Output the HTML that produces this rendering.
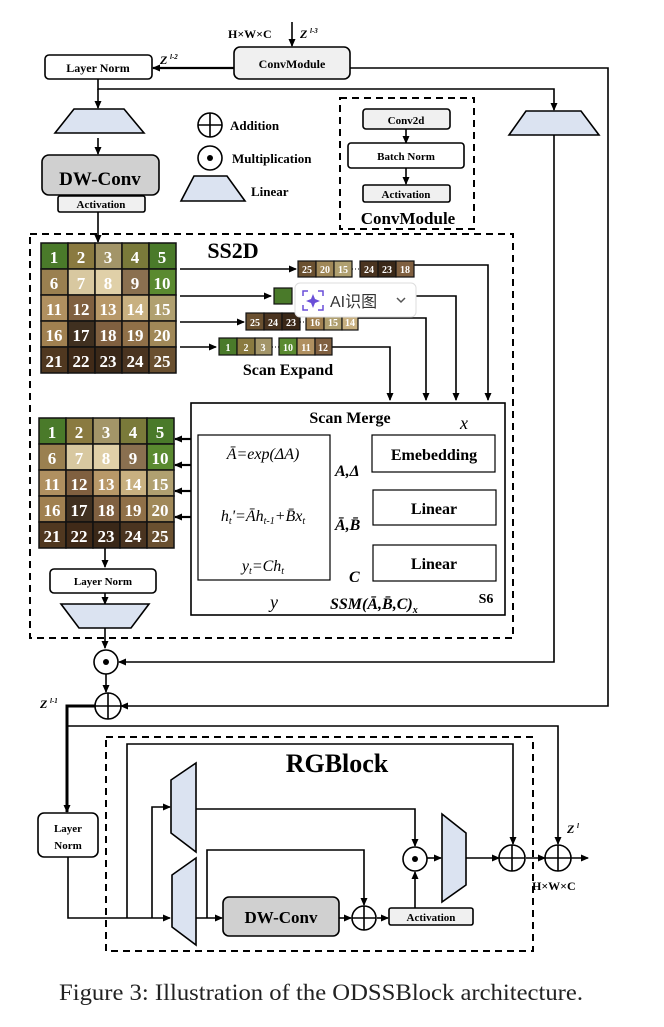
<!DOCTYPE html>
<html><head><meta charset="utf-8"><style>
html,body{margin:0;padding:0;background:#fff;}
svg{display:block;font-family:"Liberation Serif",serif;}
.b{font-weight:bold;}
.n{font-weight:bold;fill:#fff;font-size:17px;text-anchor:middle;}
.s{font-weight:bold;fill:#fff;font-size:10px;text-anchor:middle;}
</style></head><body>
<svg width="664" height="1027" viewBox="0 0 664 1027" xmlns="http://www.w3.org/2000/svg">
<defs>
<marker id="a" markerWidth="8" markerHeight="8" refX="7" refY="4" orient="auto" markerUnits="userSpaceOnUse"><path d="M0,0.5 L8,4 L0,7.5 z" fill="#000"/></marker>
</defs>
<g stroke="#000" fill="none" stroke-width="1.6">
<line x1="292" y1="22" x2="292" y2="46" marker-end="url(#a)"/>
<line x1="234" y1="68" x2="153" y2="68" stroke-width="2.2" marker-end="url(#a)"/>
<polyline points="350,68 608,68 608,706 121,706" marker-end="url(#a)"/>
<polyline points="98,79 98,89 554,89 554,110" marker-end="url(#a)"/>
<line x1="98" y1="89" x2="98" y2="108" marker-end="url(#a)"/>
<line x1="98" y1="138" x2="98" y2="154" marker-end="url(#a)"/>
<line x1="98" y1="212" x2="98" y2="242" marker-end="url(#a)"/>
<polyline points="554,135 554,662 119,662" marker-end="url(#a)"/>
<line x1="406" y1="129" x2="406" y2="143" marker-end="url(#a)"/>
<line x1="406" y1="168" x2="406" y2="184" marker-end="url(#a)"/>
<line x1="180" y1="269" x2="296" y2="269" marker-end="url(#a)"/>
<line x1="180" y1="296" x2="271" y2="296" marker-end="url(#a)"/>
<line x1="180" y1="322" x2="244" y2="322" marker-end="url(#a)"/>
<line x1="180" y1="347" x2="216" y2="347" marker-end="url(#a)"/>
<polyline points="414,265 488,265 488,400" marker-end="url(#a)"/>
<polyline points="416,296 456,296 456,400" marker-end="url(#a)"/>
<polyline points="358,318 426,318 426,400" marker-end="url(#a)"/>
<polyline points="332,347 390,347 390,400" marker-end="url(#a)"/>
<line x1="191" y1="439" x2="175" y2="439" stroke-width="2.2" marker-end="url(#a)"/>
<line x1="191" y1="465" x2="175" y2="465" stroke-width="2.2" marker-end="url(#a)"/>
<line x1="191" y1="491" x2="175" y2="491" stroke-width="2.2" marker-end="url(#a)"/>
<line x1="191" y1="517" x2="175" y2="517" stroke-width="2.2" marker-end="url(#a)"/>
<line x1="105" y1="548" x2="105" y2="567" marker-end="url(#a)"/>
<line x1="105" y1="593" x2="105" y2="604" marker-end="url(#a)"/>
<line x1="105" y1="628" x2="105" y2="648" marker-end="url(#a)"/>
<line x1="106" y1="674" x2="106" y2="692" marker-end="url(#a)"/>
<line x1="478" y1="418" x2="478" y2="434" marker-end="url(#a)"/>
<line x1="478" y1="472" x2="478" y2="489" marker-end="url(#a)"/>
<line x1="478" y1="525" x2="478" y2="544" marker-end="url(#a)"/>
<line x1="372" y1="453" x2="331" y2="453" stroke-width="1" marker-end="url(#a)"/>
<line x1="373" y1="508" x2="331" y2="508" stroke-width="1" marker-end="url(#a)"/>
<line x1="373" y1="563" x2="331" y2="563" stroke-width="1" marker-end="url(#a)"/>
<line x1="330" y1="603" x2="290" y2="603" stroke-width="1" marker-end="url(#a)"/>
<polyline points="95,706 67,706 67,812" stroke-width="3" marker-end="url(#a)"/>
<polyline points="67,726 558,726 558,844" marker-end="url(#a)"/>
<polyline points="68,857 68,918 170,918" marker-end="url(#a)"/>
<polyline points="127,918 127,744 513,744 513,844" marker-end="url(#a)"/>
<polyline points="152,918 152,807 170,807" marker-end="url(#a)"/>
<polyline points="196,809 415,809 415,846" marker-end="url(#a)"/>
<line x1="196" y1="918" x2="222" y2="918" marker-end="url(#a)"/>
<polyline points="207,918 207,850 364,850 364,905" marker-end="url(#a)"/>
<line x1="339" y1="918" x2="351" y2="918" marker-end="url(#a)"/>
<line x1="377" y1="918" x2="388" y2="918" marker-end="url(#a)"/>
<line x1="415" y1="908" x2="415" y2="872" marker-end="url(#a)"/>
<line x1="427" y1="858" x2="441" y2="858" marker-end="url(#a)"/>
<line x1="466" y1="858" x2="499" y2="858" marker-end="url(#a)"/>
<line x1="526" y1="858" x2="545" y2="858" marker-end="url(#a)"/>
<line x1="571" y1="858" x2="588" y2="858" marker-end="url(#a)"/>
</g>

<g stroke="#000" stroke-width="1.6">
<rect x="234" y="47" width="116" height="32" rx="6" fill="#f0f0f0"/>
<rect x="45" y="55" width="107" height="24" rx="4" fill="#fff"/>
<polygon points="74,109 124,109 144,133 55,133" fill="#dbe3f1"/>
<polygon points="526,111 581,111 599,135 509,135" fill="#dbe3f1"/>
<rect x="42" y="155" width="117" height="40" rx="7" fill="#d0d0d0"/>
<rect x="58" y="196" width="87" height="16" rx="2" fill="#f0f0f0"/>
<polygon points="194,176 227,176 245,201 181,201" fill="#dbe3f1"/>
<rect x="363" y="109" width="87" height="20" rx="3" fill="#f0f0f0"/>
<rect x="348" y="143" width="116" height="25" rx="3" fill="#fff"/>
<rect x="363" y="185" width="87" height="17" rx="2" fill="#f0f0f0"/>
<rect x="191" y="403" width="314" height="212" fill="#fff"/>
<rect x="198" y="435" width="132" height="145" fill="#fff" stroke-width="1.2"/>
<rect x="372" y="435" width="123" height="37" fill="#fff" stroke-width="1.2"/>
<rect x="373" y="490" width="123" height="35" fill="#fff" stroke-width="1.2"/>
<rect x="373" y="545" width="123" height="36" fill="#fff" stroke-width="1.2"/>
<rect x="50" y="569" width="106" height="24" rx="4" fill="#fff"/>
<polygon points="61,604 149,604 131,628 79,628" fill="#dbe3f1"/>
<rect x="38" y="813" width="60" height="44" rx="6" fill="#fff"/>
<polygon points="196,763 196,852 171,833 171,780" fill="#dbe3f1"/>
<polygon points="196,858 196,945 172,927 172,875" fill="#dbe3f1"/>
<rect x="223" y="897" width="116" height="39" rx="6" fill="#d0d0d0"/>
<rect x="389" y="908" width="84" height="17" rx="2" fill="#f0f0f0"/>
<polygon points="442,814 466,833 466,885 442,902" fill="#dbe3f1"/>
</g>
<g stroke="#000" stroke-width="2" fill="none" stroke-dasharray="7,5">
<rect x="340" y="98" width="134" height="131"/>
<rect x="30" y="234" width="483" height="404"/>
<rect x="106" y="737" width="427" height="214"/>
</g>
<g stroke="#000" stroke-width="1.6" fill="#fff">
<circle cx="210" cy="125" r="12"/><line x1="198" y1="125" x2="222" y2="125"/><line x1="210" y1="113" x2="210" y2="137"/>
<circle cx="210" cy="158" r="12"/>
<circle cx="106" cy="662" r="12"/>
<circle cx="108" cy="706" r="13"/><line x1="95" y1="706" x2="121" y2="706"/><line x1="108" y1="693" x2="108" y2="719"/>
<circle cx="415" cy="859" r="12"/>
<circle cx="364" cy="918" r="12"/><line x1="352" y1="918" x2="376" y2="918"/><line x1="364" y1="906" x2="364" y2="930"/>
<circle cx="512" cy="858" r="13"/><line x1="499" y1="858" x2="525" y2="858"/><line x1="512" y1="845" x2="512" y2="871"/>
<circle cx="558" cy="858" r="13"/><line x1="545" y1="858" x2="571" y2="858"/><line x1="558" y1="845" x2="558" y2="871"/>
</g>
<g fill="#000"><circle cx="210" cy="158" r="3"/><circle cx="106" cy="662" r="3"/><circle cx="415" cy="859" r="3"/></g>

<g class="b" font-size="12">
<text x="228" y="38">H×W×C</text>
<text x="300" y="38" font-style="italic">Z</text><text x="310" y="33" font-size="7" font-style="italic">l-3</text>
<text x="160" y="64" font-style="italic">Z</text><text x="170" y="59" font-size="7" font-style="italic">l-2</text>
<text x="292" y="68" text-anchor="middle">ConvModule</text>
<text x="98" y="72" text-anchor="middle">Layer Norm</text>
<text x="100" y="185" text-anchor="middle" font-size="19">DW-Conv</text>
<text x="101" y="208" text-anchor="middle" font-size="11">Activation</text>
<text x="230" y="130" font-size="13">Addition</text>
<text x="232" y="163" font-size="13">Multiplication</text>
<text x="251" y="196" font-size="13">Linear</text>
<text x="406" y="124" text-anchor="middle" font-size="11">Conv2d</text>
<text x="406" y="160" text-anchor="middle" font-size="11">Batch Norm</text>
<text x="406" y="198" text-anchor="middle" font-size="11">Activation</text>
<text x="408" y="224" text-anchor="middle" font-size="17">ConvModule</text>
<text x="233" y="258" text-anchor="middle" font-size="22">SS2D</text>
<text x="288" y="375" text-anchor="middle" font-size="16">Scan Expand</text>
<text x="350" y="423" text-anchor="middle" font-size="16">Scan Merge</text>
<text x="434" y="460" text-anchor="middle" font-size="16">Emebedding</text>
<text x="434" y="514" text-anchor="middle" font-size="16">Linear</text>
<text x="434" y="569" text-anchor="middle" font-size="16">Linear</text>
<text x="486" y="603" text-anchor="middle" font-size="14">S6</text>
<text x="103" y="585" text-anchor="middle" font-size="11">Layer Norm</text>
<text x="68" y="832" text-anchor="middle" font-size="11">Layer</text>
<text x="68" y="849" text-anchor="middle" font-size="11">Norm</text>
<text x="337" y="772" text-anchor="middle" font-size="26">RGBlock</text>
<text x="281" y="923" text-anchor="middle" font-size="17">DW-Conv</text>
<text x="431" y="921" text-anchor="middle" font-size="11">Activation</text>
<text x="40" y="708" font-style="italic">Z</text><text x="50" y="703" font-size="7" font-style="italic">l-1</text>
<text x="567" y="833" font-style="italic">Z</text><text x="577" y="828" font-size="7" font-style="italic">l</text>
<text x="532" y="890">H×W×C</text>
</g>
<g font-style="italic" font-size="16">
<text x="460" y="429" font-size="18">x</text>
<text x="263" y="459" text-anchor="middle">Ā=exp(ΔA)</text>
<text x="263" y="521" text-anchor="middle">h<tspan font-size="10" dy="3">t</tspan><tspan dy="-3">'=Āh</tspan><tspan font-size="10" dy="3">t-1</tspan><tspan dy="-3">+B̄x</tspan><tspan font-size="10" dy="3">t</tspan></text>
<text x="263" y="571" text-anchor="middle">y<tspan font-size="10" dy="3">t</tspan><tspan dy="-3">=Ch</tspan><tspan font-size="10" dy="3">t</tspan></text>
<text x="335" y="476" class="b">A,Δ</text>
<text x="335" y="530" class="b">Ā,B̄</text>
<text x="349" y="582" class="b">C</text>
<text x="270" y="608" font-size="18">y</text>
<text x="330" y="609" class="b">SSM(Ā,B̄,C)<tspan font-size="10" dy="4">x</tspan></text>
</g>

<g stroke="#111" stroke-width="1.5">
<rect x="41" y="243" width="27" height="26" fill="#4a7a2a"/><rect x="68" y="243" width="27" height="26" fill="#8a7a40"/><rect x="95" y="243" width="27" height="26" fill="#a39568"/><rect x="122" y="243" width="27" height="26" fill="#7a7a3a"/><rect x="149" y="243" width="27" height="26" fill="#4a7a2a"/>
<rect x="41" y="269" width="27" height="26" fill="#9a8050"/><rect x="68" y="269" width="27" height="26" fill="#d8c8a0"/><rect x="95" y="269" width="27" height="26" fill="#e0d0a8"/><rect x="122" y="269" width="27" height="26" fill="#8a7050"/><rect x="149" y="269" width="27" height="26" fill="#5a8a30"/>
<rect x="41" y="295" width="27" height="26" fill="#b09060"/><rect x="68" y="295" width="27" height="26" fill="#806040"/><rect x="95" y="295" width="27" height="26" fill="#b89868"/><rect x="122" y="295" width="27" height="26" fill="#c8b080"/><rect x="149" y="295" width="27" height="26" fill="#b0a070"/>
<rect x="41" y="321" width="27" height="26" fill="#a08050"/><rect x="68" y="321" width="27" height="26" fill="#403020"/><rect x="95" y="321" width="27" height="26" fill="#806040"/><rect x="122" y="321" width="27" height="26" fill="#907048"/><rect x="149" y="321" width="27" height="26" fill="#a08858"/>
<rect x="41" y="347" width="27" height="26" fill="#503820"/><rect x="68" y="347" width="27" height="26" fill="#402a18"/><rect x="95" y="347" width="27" height="26" fill="#3a2818"/><rect x="122" y="347" width="27" height="26" fill="#4a3420"/><rect x="149" y="347" width="27" height="26" fill="#6a5030"/>
</g>
<g class="n">
<text x="54" y="263">1</text><text x="81" y="263">2</text><text x="108" y="263">3</text><text x="135" y="263">4</text><text x="162" y="263">5</text>
<text x="54" y="289">6</text><text x="81" y="289">7</text><text x="108" y="289">8</text><text x="135" y="289">9</text><text x="162" y="289">10</text>
<text x="54" y="315">11</text><text x="81" y="315">12</text><text x="108" y="315">13</text><text x="135" y="315">14</text><text x="162" y="315">15</text>
<text x="54" y="341">16</text><text x="81" y="341">17</text><text x="108" y="341">18</text><text x="135" y="341">19</text><text x="162" y="341">20</text>
<text x="54" y="367">21</text><text x="81" y="367">22</text><text x="108" y="367">23</text><text x="135" y="367">24</text><text x="162" y="367">25</text>
</g>
<g stroke="#111" stroke-width="1.5">
<rect x="39" y="418" width="27" height="26" fill="#4a7a2a"/><rect x="66" y="418" width="27" height="26" fill="#8a7a40"/><rect x="93" y="418" width="27" height="26" fill="#a39568"/><rect x="120" y="418" width="27" height="26" fill="#7a7a3a"/><rect x="147" y="418" width="27" height="26" fill="#4a7a2a"/>
<rect x="39" y="444" width="27" height="26" fill="#9a8050"/><rect x="66" y="444" width="27" height="26" fill="#d8c8a0"/><rect x="93" y="444" width="27" height="26" fill="#e0d0a8"/><rect x="120" y="444" width="27" height="26" fill="#8a7050"/><rect x="147" y="444" width="27" height="26" fill="#5a8a30"/>
<rect x="39" y="470" width="27" height="26" fill="#b09060"/><rect x="66" y="470" width="27" height="26" fill="#806040"/><rect x="93" y="470" width="27" height="26" fill="#b89868"/><rect x="120" y="470" width="27" height="26" fill="#c8b080"/><rect x="147" y="470" width="27" height="26" fill="#b0a070"/>
<rect x="39" y="496" width="27" height="26" fill="#a08050"/><rect x="66" y="496" width="27" height="26" fill="#403020"/><rect x="93" y="496" width="27" height="26" fill="#806040"/><rect x="120" y="496" width="27" height="26" fill="#907048"/><rect x="147" y="496" width="27" height="26" fill="#a08858"/>
<rect x="39" y="522" width="27" height="26" fill="#503820"/><rect x="66" y="522" width="27" height="26" fill="#402a18"/><rect x="93" y="522" width="27" height="26" fill="#3a2818"/><rect x="120" y="522" width="27" height="26" fill="#4a3420"/><rect x="147" y="522" width="27" height="26" fill="#6a5030"/>
</g>
<g class="n">
<text x="52" y="438">1</text><text x="79" y="438">2</text><text x="106" y="438">3</text><text x="133" y="438">4</text><text x="160" y="438">5</text>
<text x="52" y="464">6</text><text x="79" y="464">7</text><text x="106" y="464">8</text><text x="133" y="464">9</text><text x="160" y="464">10</text>
<text x="52" y="490">11</text><text x="79" y="490">12</text><text x="106" y="490">13</text><text x="133" y="490">14</text><text x="160" y="490">15</text>
<text x="52" y="516">16</text><text x="79" y="516">17</text><text x="106" y="516">18</text><text x="133" y="516">19</text><text x="160" y="516">20</text>
<text x="52" y="542">21</text><text x="79" y="542">22</text><text x="106" y="542">23</text><text x="133" y="542">24</text><text x="160" y="542">25</text>
</g>
<g stroke="#111" stroke-width="1.2">
<rect x="298" y="261" width="18" height="16" fill="#6a5030"/><rect x="316" y="261" width="18" height="16" fill="#a08858"/><rect x="334" y="261" width="18" height="16" fill="#b0a070"/>
<rect x="360" y="261" width="18" height="16" fill="#4a3420"/><rect x="378" y="261" width="18" height="16" fill="#3a2818"/><rect x="396" y="261" width="18" height="16" fill="#806040"/>
<rect x="274" y="288" width="18" height="16" fill="#4a7a2a"/>
<rect x="246" y="313" width="18" height="17" fill="#6a5030"/><rect x="264" y="313" width="18" height="17" fill="#4a3420"/><rect x="282" y="313" width="18" height="17" fill="#3a2818"/>
<rect x="306" y="313" width="18" height="17" fill="#a08050"/><rect x="324" y="313" width="18" height="17" fill="#b0a070"/><rect x="342" y="313" width="16" height="17" fill="#c8b080"/>
<rect x="219" y="338" width="18" height="17" fill="#4a7a2a"/><rect x="237" y="338" width="18" height="17" fill="#8a7a40"/><rect x="255" y="338" width="17" height="17" fill="#a39568"/>
<rect x="279" y="338" width="18" height="17" fill="#5a8a30"/><rect x="297" y="338" width="18" height="17" fill="#b09060"/><rect x="315" y="338" width="17" height="17" fill="#806040"/>
</g>
<g stroke="#000" stroke-width="1" stroke-dasharray="1,2"><line x1="352" y1="269" x2="360" y2="269"/><line x1="300" y1="322" x2="306" y2="322"/><line x1="272" y1="347" x2="279" y2="347"/></g>
<g class="s">
<text x="307" y="273">25</text><text x="325" y="273">20</text><text x="343" y="273">15</text><text x="369" y="273">24</text><text x="387" y="273">23</text><text x="405" y="273">18</text>
<text x="255" y="326">25</text><text x="273" y="326">24</text><text x="291" y="326">23</text><text x="315" y="326">16</text><text x="333" y="326">15</text><text x="350" y="326">14</text>
<text x="228" y="351">1</text><text x="246" y="351">2</text><text x="263" y="351">3</text><text x="288" y="351">10</text><text x="306" y="351">11</text><text x="323" y="351">12</text>
</g>
<rect x="295" y="283" width="121" height="34" rx="5" fill="#fff" stroke="#ddd" stroke-width="1"/>
<g stroke="#6a4fd8" stroke-width="1.5" fill="none"><path d="M303,296 v-5 h5 M318,291 h5 v5 M323,305 v5 h-5 M308,310 h-5 v-5"/></g>
<path d="M313,294 L315,299 L320,301 L315,303 L313,308 L311,303 L306,301 L311,299 z" fill="#6a4fd8"/>
<text x="330" y="307" font-family="Liberation Sans, Noto Sans CJK SC, sans-serif" font-size="16" fill="#333">AI识图</text>
<path d="M397,298 l4,4 l4,-4" stroke="#555" stroke-width="1.5" fill="none"/>

<text x="321" y="1000" text-anchor="middle" font-size="23" fill="#222" textLength="524" lengthAdjust="spacingAndGlyphs">Figure 3: Illustration of the ODSSBlock architecture.</text>
</svg>
</body></html>
